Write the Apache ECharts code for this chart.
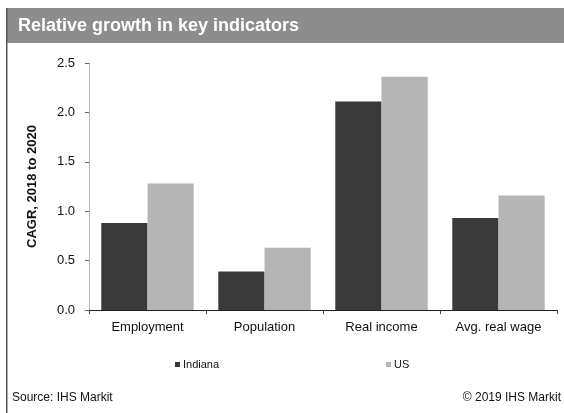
<!DOCTYPE html>
<html>
<head>
<meta charset="utf-8">
<script src="https://cdn.jsdelivr.net/npm/echarts@6/dist/echarts.min.js"></script>
<style>
  html, body { margin: 0; padding: 0; background: #fff; }
  #chart { width: 564px; height: 413px; }
</style>
</head>
<body>
<div id="chart"></div>
<script>
// Compound annual growth rates, 2018 to 2020
const categories = ['Employment', 'Population', 'Real income', 'Avg. real wage'];
const indiana = [0.88, 0.39, 2.11, 0.93];
const us = [1.28, 0.63, 2.36, 1.16];
const yTicks = { min: 0, max: 2.5, interval: 0.5 };

const font = 'Liberation Sans, Arial, sans-serif';
const chart = echarts.init(document.getElementById('chart'));

chart.setOption({
  animation: false,
  backgroundColor: '#fff',
  textStyle: { fontFamily: font },
  graphic: [
    // header band
    { type: 'rect', left: 7, top: 8, shape: { width: 557, height: 35 }, style: { fill: '#8d8d8d' }, silent: true },
    { type: 'text', left: 18, top: 17, style: { text: 'Relative growth in key indicators', fill: '#fff', font: 'bold 18px ' + font } },
    // left frame line
    { type: 'rect', left: 6, top: 8, shape: { width: 1.5, height: 405 }, style: { fill: '#555' }, silent: true },
    // footer
    { type: 'text', left: 12, top: 392, style: { text: 'Source: IHS Markit', fill: '#111', font: '12px ' + font } },
    { type: 'text', right: 3, top: 392, style: { text: '\u00a9 2019 IHS Markit', fill: '#111', font: '12px ' + font, textAlign: 'right' } }
  ],
  grid: { left: 89, right: 7, top: 63, bottom: 103 },
  legend: {
    left: 170, top: 354,
    itemWidth: 5, itemHeight: 5, itemGap: 167,
    icon: 'rect',
    textStyle: { fontSize: 11, color: '#111', fontFamily: font, padding: [0, 0, 0, -2] },
    data: ['Indiana', 'US']
  },
  xAxis: {
    type: 'category',
    data: categories,
    axisLine: { lineStyle: { color: '#222', width: 1 } },
    axisTick: { show: true, length: 4, lineStyle: { color: '#444' } },
    axisLabel: { fontSize: 13, color: '#111', margin: 11, fontFamily: font }
  },
  yAxis: {
    type: 'value',
    min: yTicks.min, max: yTicks.max, interval: yTicks.interval,
    name: 'CAGR, 2018 to 2020',
    nameLocation: 'middle',
    nameGap: 50,
    nameTextStyle: { fontSize: 13, fontWeight: 'bold', color: '#111', fontFamily: font },
    axisLine: { show: true, lineStyle: { color: '#aaa', width: 1, type: 'dotted' } },
    axisTick: { show: true, length: 4, lineStyle: { color: '#666' } },
    splitLine: { show: false },
    axisLabel: { fontSize: 13, color: '#111', margin: 14, fontFamily: font, formatter: v => v.toFixed(1) }
  },
  series: [
    { name: 'Indiana', type: 'bar', data: indiana, barGap: '0%', barCategoryGap: '21%', itemStyle: { color: '#3a3a3a' } },
    { name: 'US', type: 'bar', data: us, itemStyle: { color: '#b5b5b5' } }
  ]
});
</script>
</body>
</html>
